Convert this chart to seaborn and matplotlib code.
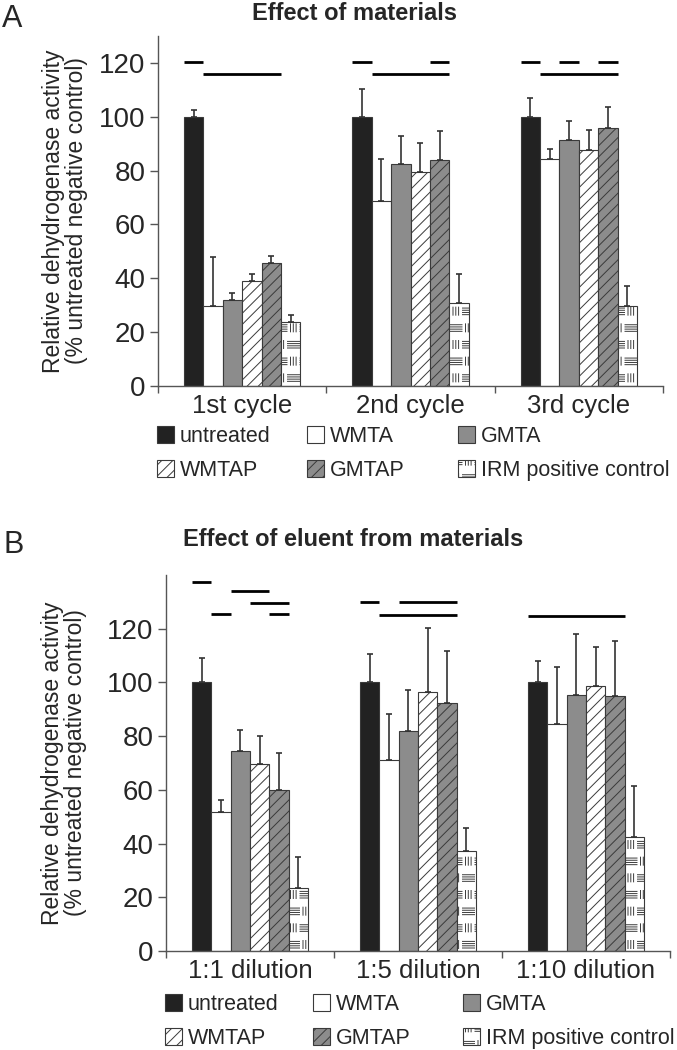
import numpy as np
import pandas as pd
import matplotlib
matplotlib.use('Agg')
import matplotlib.pyplot as plt
import matplotlib.hatch as mhatch
from matplotlib.path import Path
from matplotlib.patches import Patch
import seaborn as sns

# ---- data ----
materials = ['untreated', 'WMTA', 'GMTA', 'WMTAP', 'GMTAP', 'IRM positive control']

cycles = ['1st cycle', '2nd cycle', '3rd cycle']
a_untreated = [100.0, 100.0, 100.0]
a_wmta = [29.7, 68.7, 84.3]
a_gmta = [31.8, 82.5, 91.3]
a_wmtap = [39.1, 79.6, 87.8]
a_gmtap = [45.8, 84.1, 96.0]
a_irm = [23.7, 31.0, 29.8]
a_untreated_sd = [2.5, 10.3, 7.1]
a_wmta_sd = [18.2, 15.6, 3.7]
a_gmta_sd = [2.7, 10.5, 7.3]
a_wmtap_sd = [2.6, 10.6, 7.3]
a_gmtap_sd = [2.6, 10.6, 7.5]
a_irm_sd = [2.6, 10.5, 7.4]

dilutions = ['1:1 dilution', '1:5 dilution', '1:10 dilution']
b_untreated = [100.0, 100.0, 100.0]
b_wmta = [51.6, 71.2, 84.5]
b_gmta = [74.5, 81.8, 95.3]
b_wmtap = [69.8, 96.5, 98.5]
b_gmtap = [59.9, 92.5, 94.8]
b_irm = [23.4, 37.3, 42.6]
b_untreated_sd = [9.0, 10.5, 7.8]
b_wmta_sd = [4.6, 16.9, 21.4]
b_gmta_sd = [7.7, 15.4, 22.9]
b_wmtap_sd = [10.4, 23.7, 14.7]
b_gmtap_sd = [14.0, 19.1, 20.8]
b_irm_sd = [11.6, 8.5, 18.7]

# significance bars: (group, first bar, last bar, height)
a_sig = [(0, 0, 0, 120.4), (0, 1, 4, 115.7),
         (1, 0, 0, 120.4), (1, 4, 4, 120.4), (1, 1, 4, 115.7),
         (2, 0, 0, 120.4), (2, 2, 2, 120.4), (2, 4, 4, 120.4), (2, 1, 4, 115.7)]
b_sig = [(0, 0, 0, 137.4), (0, 2, 3, 133.9), (0, 3, 4, 129.5), (0, 1, 1, 125.5), (0, 4, 4, 125.5),
         (1, 0, 0, 129.8), (1, 2, 4, 129.8), (1, 1, 4, 125.2),
         (2, 0, 4, 124.9)]

colors = {'untreated': '#222222', 'WMTA': 'white', 'GMTA': '#8c8c8c',
          'WMTAP': 'white', 'GMTAP': '#8c8c8c', 'IRM positive control': 'white'}
hatches = {'untreated': '', 'WMTA': '', 'GMTA': '', 'WMTAP': '///', 'GMTAP': '///',
           'IRM positive control': 'O'}


# Excel-like block fill for the IRM bars (stacks of horizontal dashes next to vertical ones),
# hooked onto the 'O' hatch character
class BlockHatch(mhatch.HatchPatternBase):
    def __init__(self, hatch, density):
        self.segs = []
        if 'O' in hatch:
            rows, cols = 6, 4
            for r in range(rows):
                y0 = r / rows
                shift = (r % 2) * 0.5 / cols
                for c in range(-1, cols + 1):
                    x0 = c / cols + shift
                    for k in range(4):
                        y = y0 + 0.02 + k * 0.022
                        self.segs.append(((x0, y), (x0 + 0.12, y)))
                    for k in range(3):
                        x = x0 + 0.155 + k * 0.028
                        self.segs.append(((x, y0 + 0.015), (x, y0 + 0.095)))
        self.num_vertices = 2 * len(self.segs)

    def set_vertices_and_codes(self, vertices, codes):
        vertices[:] = np.array(self.segs).reshape(-1, 2)
        codes[0::2] = Path.MOVETO
        codes[1::2] = Path.LINETO


mhatch._hatch_types[mhatch._hatch_types.index(mhatch.LargeCircles)] = BlockHatch

sns.set_style('ticks')
plt.rcParams['font.family'] = ['Liberation Sans', 'DejaVu Sans']
plt.rcParams['hatch.linewidth'] = 0.7

W, H = 677, 1050
fig = plt.figure(figsize=(W / 100, H / 100), dpi=100)
ax_a = fig.add_axes([158 / W, 1 - 386 / H, 505 / W, 350 / H])
ax_b = fig.add_axes([166 / W, 1 - 951 / H, 504 / W, 376 / H])


def long_table(cats, series):
    rows = []
    for m, vals in zip(materials, series):
        for c, v in zip(cats, vals):
            rows.append({'cat': c, 'material': m, 'value': v})
    return pd.DataFrame(rows)


def draw_panel(ax, cats, series, sds, sig, ymax):
    df = long_table(cats, series)
    sns.barplot(data=df, x='cat', y='value', hue='material', order=cats, hue_order=materials,
                palette=colors, saturation=1, width=0.69, errorbar=None,
                edgecolor='#3a3a3a', linewidth=0.8, legend=False, ax=ax)
    for m, cont, sd in zip(materials, ax.containers, sds):
        xs, tops = [], []
        for bar in cont:
            bar.set_hatch(hatches[m])
            xs.append(bar.get_x() + bar.get_width() / 2)
            tops.append(bar.get_height())
        ax.errorbar(xs, tops, yerr=[np.zeros(len(sd)), sd], fmt='none', ecolor='#333333',
                    elinewidth=1.2, capsize=2, capthick=1.2, zorder=3)
    for g, i0, i1, y in sig:
        b0 = ax.containers[i0][g]
        b1 = ax.containers[i1][g]
        ax.hlines(y, b0.get_x(), b1.get_x() + b1.get_width(), color='black', lw=2)

    ax.set_xlim(-0.5, 2.5)
    ax.set_ylim(0, ymax)
    ax.set_yticks(range(0, 121, 20))
    ax.set_xticks(range(3))
    ax.set_xticklabels(cats)
    ax.set_xticks([-0.5, 0.5, 1.5, 2.5], minor=True)
    ax.tick_params(axis='x', which='major', length=0, pad=6, labelsize=18.5)
    ax.tick_params(axis='x', which='minor', length=5, width=1, color='#555555')
    ax.tick_params(axis='y', length=6, width=1, color='#555555', pad=3, labelsize=20)
    ax.set_xlabel('')
    ax.set_ylabel('Relative dehydrogenase activity\n(% untreated negative control)',
                  fontsize=16.5, linespacing=1.0)
    sns.despine(ax=ax)
    for s in ['left', 'bottom']:
        ax.spines[s].set_color('#555555')
        ax.spines[s].set_linewidth(1)


def add_legend(col_x, top_y):
    handles = [Patch(facecolor=colors[m], edgecolor='#3a3a3a', hatch=hatches[m], lw=0.8,
                     label=m) for m in materials]
    for c in range(3):
        fig.legend(handles=[handles[c], handles[c + 3]], loc='upper left',
                   bbox_to_anchor=(col_x[c] / W, 1 - top_y / H), frameon=False,
                   borderpad=0, borderaxespad=0, handlelength=0.8, handleheight=0.8,
                   handletextpad=0.25, labelspacing=0.6, fontsize=15.5)


draw_panel(ax_a, cycles,
           [a_untreated, a_wmta, a_gmta, a_wmtap, a_gmtap, a_irm],
           [a_untreated_sd, a_wmta_sd, a_gmta_sd, a_wmtap_sd, a_gmtap_sd, a_irm_sd],
           a_sig, 130)
ax_a.yaxis.set_label_coords(-0.139, 0.5)

draw_panel(ax_b, dilutions,
           [b_untreated, b_wmta, b_gmta, b_wmtap, b_gmtap, b_irm],
           [b_untreated_sd, b_wmta_sd, b_gmta_sd, b_wmtap_sd, b_gmtap_sd, b_irm_sd],
           b_sig, 140)
ax_b.yaxis.set_label_coords(-0.157, 0.5)

add_legend([157, 307, 458], 426)
add_legend([165, 313, 463], 994)

fig.text(354 / W, 1 - 20 / H, 'Effect of materials', ha='center', va='baseline',
         fontsize=17, fontweight='bold')
fig.text(353 / W, 1 - 546 / H, 'Effect of eluent from materials', ha='center', va='baseline',
         fontsize=17, fontweight='bold')
fig.text(2 / W, 1 - 27 / H, 'A', ha='left', va='baseline', fontsize=22)
fig.text(3 / W, 1 - 553 / H, 'B', ha='left', va='baseline', fontsize=22)

fig.savefig('out.png', dpi=100)
